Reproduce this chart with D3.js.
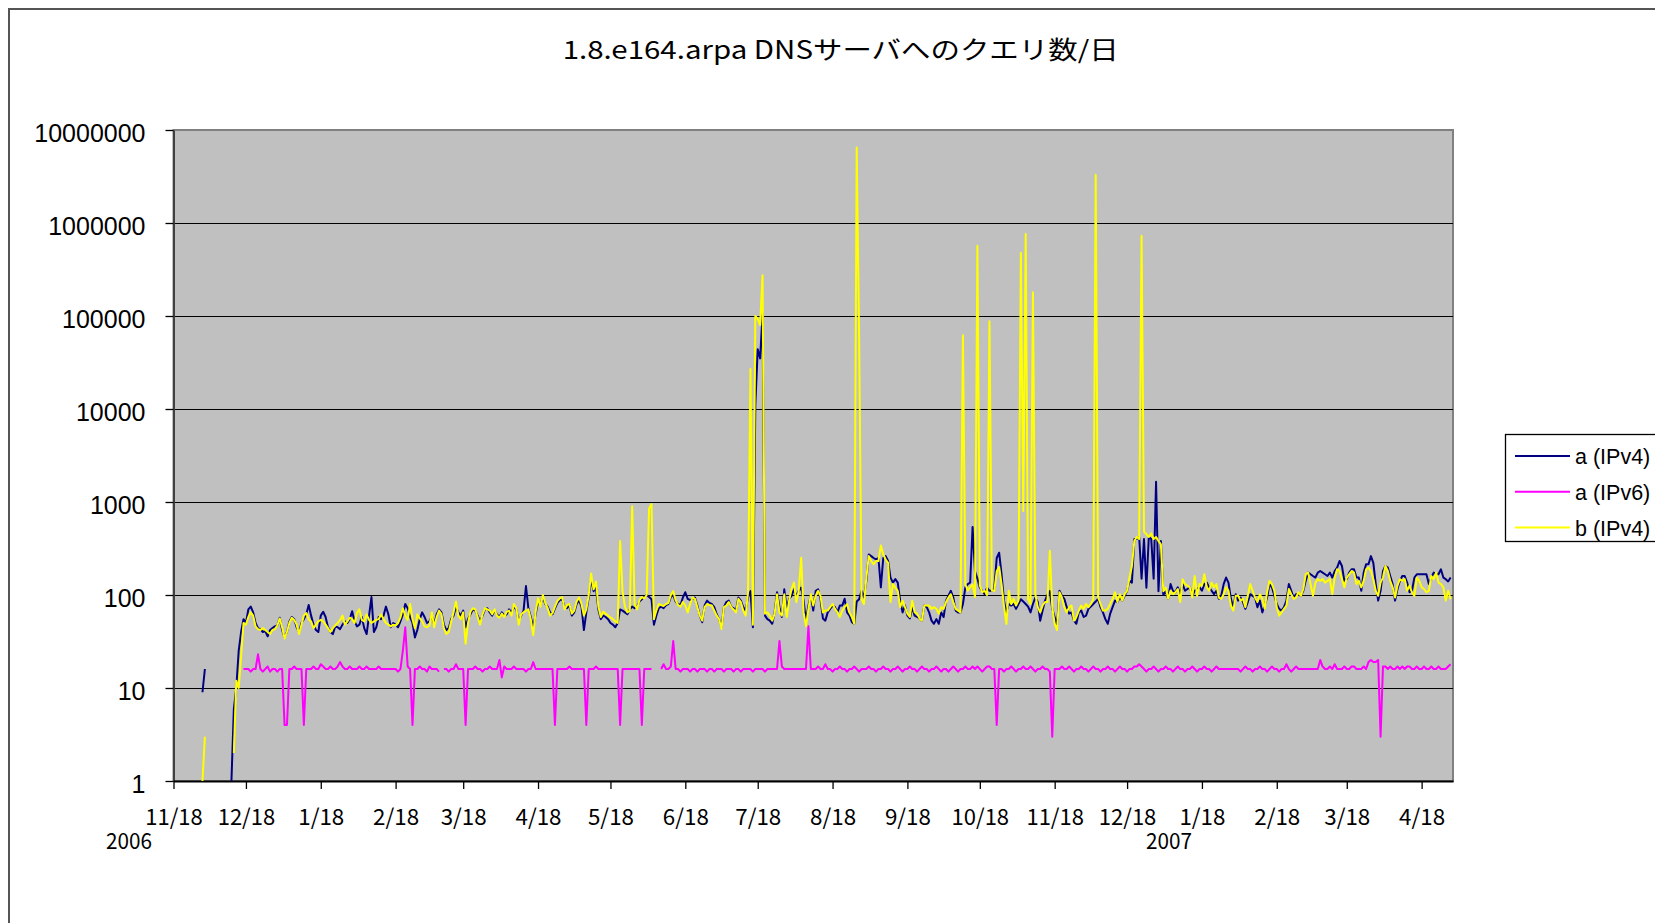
<!DOCTYPE html>
<html>
<head>
<meta charset="utf-8">
<script src="https://cdn.jsdelivr.net/npm/d3@7"></script>
<style>
  body { margin: 0; background: #fff; }
  svg { display: block; }
</style>
</head>
<body>
<script>
// Daily query counts, one value per day starting 2006/11/18 (null = no data)
var startDay = Date.UTC(2006, 10, 18);
var endDay = Date.UTC(2008, 4, 1);

var aIPv4 = [
  null,null,null,null,null,null,null,null,null,null,
  null,null,9,16,null,null,null,null,null,null,
  null,null,null,null,1,6,10,25,40,55,
  50,70,75,65,50,44,43,40,41,36,
  42,44,46,47,57,42,35,40,52,58,
  55,45,40,50,55,62,78,60,48,42,
  40,60,66,58,45,40,38,46,45,43,
  48,52,50,55,67,52,46,48,58,44,
  38,60,95,40,45,58,55,60,75,62,
  45,50,48,45,52,62,80,72,58,50,
  35,42,55,65,58,50,52,60,48,62,
  70,65,48,42,44,55,60,75,65,60,
  68,45,55,62,70,68,60,52,60,70,
  72,65,60,68,62,58,65,60,62,70,
  65,75,70,52,60,68,125,72,58,45,
  62,85,78,95,80,75,65,62,72,82,
  88,90,75,72,78,60,65,80,88,75,
  42,65,95,150,110,120,70,55,60,58,
  55,50,48,45,50,70,68,65,62,70,
  75,72,75,85,90,95,100,95,90,48,
  60,72,75,72,78,80,95,100,85,80,
  78,94,107,91,88,91,94,77,60,51,
  77,87,82,80,74,62,55,45,74,84,
  87,74,72,68,94,87,74,68,95,110,
  45,11000,44000,35000,105000,60,55,53,49,65,
  107,74,58,115,71,91,98,115,98,111,
  120,87,53,77,98,68,111,115,91,56,
  53,65,71,77,74,65,77,77,91,65,
  60,51,49,85,90,111,94,142,273,262,
  250,241,250,121,250,262,232,154,136,148,
  136,87,65,77,60,56,74,60,58,56,
  53,77,74,65,53,49,55,49,65,58,
  87,98,111,94,68,65,65,80,121,131,
  136,540,180,150,120,111,102,120,111,111,
  120,250,285,167,87,65,80,77,80,71,
  80,90,85,80,75,65,80,94,84,53,
  68,87,100,110,71,58,47,111,98,91,
  74,63,65,53,49,65,68,58,60,71,
  75,80,85,91,74,65,55,49,63,74,
  87,84,94,87,98,111,142,136,400,400,
  420,150,400,120,420,400,150,1650,110,380,
  100,110,91,131,111,107,121,102,131,111,
  116,121,98,111,116,121,111,131,136,121,
  111,102,111,91,98,131,154,136,91,74,
  102,87,94,84,71,84,102,98,94,74,
  87,65,77,94,131,121,98,80,71,68,
  74,87,131,111,94,102,102,98,111,142,
  174,167,160,154,174,181,174,167,160,174,
  154,181,197,232,205,142,148,174,189,189,
  154,154,111,174,214,214,262,222,131,87,
  111,181,205,197,160,131,87,116,142,160,
  160,136,107,111,154,167,167,167,167,167,
  131,154,174,167,167,189,154,148,140,154
];

var aIPv6 = [
  null,null,null,null,null,null,null,null,null,null,
  null,null,null,null,null,null,null,null,null,null,
  null,null,null,null,null,null,null,null,null,16,
  16,16,15,16,16,23,16,15,16,17,
  15,16,16,15,16,16,4,4,16,16,
  17,16,16,16,4,16,16,16,17,16,
  16,18,17,16,16,17,16,16,17,19,
  17,16,16,17,16,16,16,17,16,16,
  17,16,16,16,16,17,16,16,16,16,
  16,16,16,15,16,25,45,17,16,4,
  16,16,17,16,16,15,17,16,16,16,
  15,null,16,16,15,16,16,18,16,16,
  16,4,16,16,16,17,16,16,15,16,
  16,17,16,16,16,20,13,17,16,16,
  16,17,16,16,16,16,15,16,16,19,
  16,16,16,16,16,16,16,16,4,16,
  16,16,16,16,17,16,16,16,16,16,
  16,4,16,16,16,17,16,16,16,16,
  16,16,16,16,16,4,16,16,16,16,
  16,16,16,16,4,16,16,16,16,null,
  null,null,16,18,16,16,17,32,16,16,
  15,16,16,16,15,16,16,15,16,16,
  16,15,16,16,15,16,16,16,15,16,
  16,16,15,16,16,15,16,16,16,16,
  15,16,16,16,16,15,16,16,16,16,
  16,32,17,16,16,16,16,16,16,16,
  16,16,16,46,16,16,16,17,16,16,
  18,16,16,15,16,16,17,16,16,15,
  16,16,17,16,15,16,16,16,17,16,
  16,15,16,16,17,16,16,15,16,16,
  17,16,15,16,16,17,16,16,15,16,
  17,16,16,15,16,16,17,16,15,16,
  16,15,16,17,16,15,16,16,17,16,
  16,17,16,17,16,15,16,17,17,16,
  16,4,16,16,15,16,16,17,16,15,
  16,16,17,16,16,17,16,15,16,16,
  17,16,16,15,3,16,16,16,17,16,
  16,17,16,15,16,16,17,16,16,15,
  16,17,16,16,15,16,16,17,16,16,
  15,16,17,16,16,15,16,16,17,17,
  18,17,16,15,16,16,17,16,15,16,
  16,17,16,16,15,16,17,16,16,15,
  16,16,17,16,15,16,16,17,16,16,
  15,16,17,16,16,16,16,16,16,16,
  16,16,15,16,17,16,16,15,16,16,
  17,16,16,15,16,17,16,16,15,16,
  16,18,16,15,16,17,16,16,16,16,
  16,16,16,16,16,20,17,16,16,17,
  16,18,16,16,16,17,16,16,17,17,
  16,16,16,17,16,19,20,19,19,20,
  3,17,17,16,17,16,16,17,16,17,
  16,17,17,16,16,17,16,16,17,16,
  16,17,16,16,17,16,16,16,17,18
];

var bIPv4 = [
  null,null,null,null,null,null,null,null,null,null,
  null,null,1,3,null,null,null,null,null,null,
  null,null,null,null,null,2,12,10,22,50,
  48,58,65,60,46,43,42,44,42,40,
  38,42,43,47,56,45,34,40,50,57,
  54,48,38,48,60,64,55,52,44,48,
  52,54,52,48,44,40,44,47,50,54,
  60,48,52,57,55,50,64,70,54,52,
  62,54,50,52,54,55,62,55,50,48,
  46,48,47,50,57,72,60,54,80,55,
  44,62,56,52,46,45,47,65,45,58,
  68,62,44,38,40,52,65,85,60,55,
  65,30,50,66,72,70,58,48,62,72,
  70,68,62,70,60,57,63,58,66,68,
  60,80,72,48,62,65,68,70,55,37,
  66,92,75,100,82,72,60,64,75,86,
  92,95,70,78,80,63,68,85,94,80,
  60,70,100,170,115,140,75,58,66,63,
  60,57,55,52,50,380,110,75,65,68,
  900,80,70,88,95,92,100,850,950,55,
  68,80,78,76,80,82,100,110,88,78,
  75,84,77,65,80,94,91,74,60,53,
  74,80,78,77,68,60,55,43,74,77,
  84,74,70,65,91,84,68,60,107,27000,
  48,100000,93000,80000,275000,63,65,60,53,63,
  102,65,60,102,58,87,116,136,84,111,
  252,65,46,71,102,77,98,111,98,65,
  68,68,74,80,71,65,58,68,74,80,
  65,58,49,6500000,60000,90,80,154,262,232,
  214,232,232,340,273,241,222,84,131,120,
  111,74,87,74,63,58,87,65,63,56,
  53,77,77,77,71,74,71,63,74,71,
  84,94,102,84,71,68,65,62000,131,111,
  121,130,95,570000,127,107,111,100,88000,111,
  111,180,200,131,77,49,111,80,91,77,
  87,480000,800,760000,90,80,180000,102,74,65,
  77,84,84,300,74,49,42,107,94,74,
  65,74,77,53,58,68,77,71,80,74,
  80,90,3300000,94,80,68,68,71,80,91,
  107,84,102,87,102,111,154,205,380,420,
  400,730000,480,450,420,460,400,420,380,350,
  110,120,91,111,102,107,116,84,148,131,
  126,121,94,160,98,131,126,167,121,111,
  136,121,131,94,91,102,121,111,77,68,
  98,98,87,91,74,98,131,111,94,84,
  102,91,71,107,142,131,111,74,60,65,
  71,77,116,102,91,94,107,98,116,167,
  174,131,98,136,148,142,148,136,142,148,
  102,154,189,181,148,121,154,167,181,174,
  131,142,121,142,189,197,181,148,111,98,
  136,154,205,181,142,121,94,126,148,142,
  148,111,126,107,98,154,142,121,116,107,
  111,160,148,174,136,131,121,87,111,90
];

var tickLabels = ["11/18","12/18","1/18","2/18","3/18","4/18","5/18","6/18","7/18",
  "8/18","9/18","10/18","11/18","12/18","1/18","2/18","3/18","4/18"];
var yearLabels = ["2006", "2007"];
var yTicks = [1, 10, 100, 1000, 10000, 100000, 1000000, 10000000];
var seriesNames = ["a (IPv4)", "a (IPv6)", "b (IPv4)"];
var seriesColors = ["#000080", "#ff00ff", "#ffff00"];

var svgWidth = 1655, svgHeight = 923;
var plot = { left: 173.5, right: 1453, top: 130, bottom: 781 };

var svg = d3.select("body").append("svg")
  .attr("width", svgWidth)
  .attr("height", svgHeight);

// outer chart frame (the chart object is larger than the picture)
svg.append("path")
  .attr("d", `M9,${svgHeight} V9 H${svgWidth}`)
  .attr("fill", "none")
  .attr("stroke", "#555")
  .attr("stroke-width", 2);

svg.append("text")
  .attr("x", 840.7)
  .attr("y", 58.5)
  .attr("text-anchor", "middle")
  .attr("font-family", "'Noto Sans CJK JP', sans-serif")
  .attr("font-size", 25)
  .attr("textLength", 556)
  .attr("lengthAdjust", "spacingAndGlyphs")
  .text("1.8.e164.arpa DNSサーバへのクエリ数/日");

var x = d3.scaleUtc()
  .domain([new Date(startDay), new Date(endDay)])
  .range([plot.left, plot.right]);

var y = d3.scaleLog()
  .domain([1, 10000000])
  .range([plot.bottom, plot.top])
  .clamp(true);

// plot area
svg.append("rect")
  .attr("x", plot.left)
  .attr("y", plot.top)
  .attr("width", plot.right - plot.left)
  .attr("height", plot.bottom - plot.top)
  .attr("fill", "#c0c0c0")
  .attr("stroke", "#808080")
  .attr("stroke-width", 2);

// gridlines
svg.append("g")
  .selectAll("line")
  .data(yTicks.slice(1, -1))
  .enter()
  .append("line")
  .attr("x1", plot.left)
  .attr("x2", plot.right)
  .attr("y1", d => Math.round(y(d)) + 0.5)
  .attr("y2", d => Math.round(y(d)) + 0.5)
  .attr("stroke", "#000")
  .attr("stroke-width", 1);

// y axis
var yAxis = svg.append("g")
  .attr("transform", `translate(${plot.left}, 0)`)
  .call(d3.axisLeft(y).tickValues(yTicks).tickFormat(d3.format("d")).tickSize(8).tickPadding(20).tickSizeOuter(0));
yAxis.select(".domain").attr("stroke", "#404040").attr("stroke-width", 2);
yAxis.selectAll(".tick line").attr("stroke", "#000").attr("stroke-width", 1.3);
yAxis.selectAll(".tick text")
  .attr("font-family", "'Liberation Sans', Arial, sans-serif")
  .attr("font-size", 25)
  .attr("dy", "0.44em")
  .attr("fill", "#000");

// x axis
var tickDates = tickLabels.map((t, i) => new Date(Date.UTC(2006, 10 + i, 18)));
var xAxis = svg.append("g")
  .attr("transform", `translate(0, ${plot.bottom})`)
  .call(d3.axisBottom(x).tickValues(tickDates).tickFormat((d, i) => tickLabels[i]).tickSize(8).tickPadding(20).tickSizeOuter(0));
xAxis.select(".domain").attr("stroke", "#000").attr("stroke-width", 2);
xAxis.selectAll(".tick line").attr("stroke", "#000").attr("stroke-width", 1.3);
xAxis.selectAll(".tick text")
  .attr("font-family", "'Noto Sans CJK JP', sans-serif")
  .attr("font-size", 22)
  .attr("fill", "#000")
  .attr("textLength", (d, i) => tickLabels[i].length * 11.5)
  .attr("lengthAdjust", "spacingAndGlyphs");

svg.selectAll(".year")
  .data(yearLabels)
  .enter()
  .append("text")
  .attr("class", "year")
  .attr("x", (d, i) => i == 0 ? 129 : 1169)
  .attr("y", 849)
  .attr("text-anchor", "middle")
  .attr("font-family", "'Noto Sans CJK JP', sans-serif")
  .attr("font-size", 22)
  .attr("textLength", 46)
  .attr("lengthAdjust", "spacingAndGlyphs")
  .text(d => d);

// series lines
svg.append("clipPath").attr("id", "plotClip")
  .append("rect")
  .attr("x", plot.left).attr("y", plot.top - 1)
  .attr("width", plot.right - plot.left).attr("height", plot.bottom - plot.top + 2);

var series = [aIPv4, aIPv6, bIPv4].map(function(vals) {
  return vals.map((v, i) => ({ date: d3.utcDay.offset(new Date(startDay), i), v: v }));
});

var line = d3.line()
  .defined(d => d.v != null)
  .x(d => x(d.date))
  .y(d => y(d.v));

svg.append("g")
  .attr("clip-path", "url(#plotClip)")
  .selectAll("path")
  .data(series)
  .enter()
  .append("path")
  .attr("d", line)
  .attr("fill", "none")
  .attr("stroke", (d, i) => seriesColors[i])
  .attr("stroke-width", 2)
  .attr("stroke-linejoin", "round");

// legend (its right side runs past the picture edge, as in the original)
var legend = svg.append("g");
legend.append("rect")
  .attr("x", 1505.5)
  .attr("y", 434.5)
  .attr("width", 220)
  .attr("height", 107)
  .attr("fill", "#fff")
  .attr("stroke", "#000")
  .attr("stroke-width", 1.3);

var items = legend.selectAll(".item")
  .data(seriesNames)
  .enter()
  .append("g")
  .attr("transform", (d, i) => `translate(0, ${456 + i * 35.8})`);
items.append("line")
  .attr("x1", 1515).attr("x2", 1570)
  .attr("stroke", (d, i) => seriesColors[i])
  .attr("stroke-width", 2);
items.append("text")
  .attr("x", 1575)
  .attr("y", 8)
  .attr("font-family", "'Liberation Sans', Arial, sans-serif")
  .attr("font-size", 21.5)
  .text(d => d);
</script>
</body>
</html>
